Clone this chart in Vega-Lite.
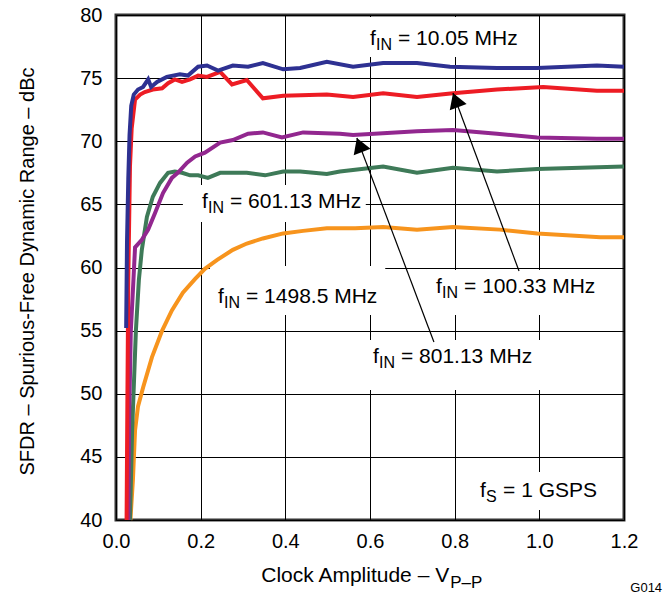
{
  "$schema": "https://vega.github.io/schema/vega-lite/v6.json",
  "width": 508,
  "height": 505,
  "autosize": {"type": "none"},
  "padding": {"left": 116, "top": 15, "right": 45, "bottom": 76},
  "background": "white",
  "config": {
    "font": "Liberation Sans",
    "view": {"stroke": "#333", "strokeWidth": 3},
    "text": {"font": "Liberation Sans", "color": "#000"}
  },
  "datasets": {
    "curves": [
      {"s": "10.05", "x": 0.024, "y": 55.2}, {"s": "10.05", "x": 0.026, "y": 62}, {"s": "10.05", "x": 0.029, "y": 67}, {"s": "10.05", "x": 0.032, "y": 70.5}, {"s": "10.05", "x": 0.036, "y": 72.8}, {"s": "10.05", "x": 0.042, "y": 73.7}, {"s": "10.05", "x": 0.052, "y": 74.1}, {"s": "10.05", "x": 0.064, "y": 74.3}, {"s": "10.05", "x": 0.076, "y": 74.9}, {"s": "10.05", "x": 0.083, "y": 74.3}, {"s": "10.05", "x": 0.097, "y": 74.7}, {"s": "10.05", "x": 0.12, "y": 75.1}, {"s": "10.05", "x": 0.151, "y": 75.3}, {"s": "10.05", "x": 0.17, "y": 75.2}, {"s": "10.05", "x": 0.194, "y": 75.9}, {"s": "10.05", "x": 0.215, "y": 76.0}, {"s": "10.05", "x": 0.241, "y": 75.6}, {"s": "10.05", "x": 0.276, "y": 76.0}, {"s": "10.05", "x": 0.312, "y": 75.9}, {"s": "10.05", "x": 0.347, "y": 76.2}, {"s": "10.05", "x": 0.395, "y": 75.7}, {"s": "10.05", "x": 0.435, "y": 75.8}, {"s": "10.05", "x": 0.498, "y": 76.3}, {"s": "10.05", "x": 0.56, "y": 75.9}, {"s": "10.05", "x": 0.631, "y": 76.2}, {"s": "10.05", "x": 0.711, "y": 76.2}, {"s": "10.05", "x": 0.789, "y": 75.9}, {"s": "10.05", "x": 0.9, "y": 75.8}, {"s": "10.05", "x": 0.995, "y": 75.8}, {"s": "10.05", "x": 1.136, "y": 76.0}, {"s": "10.05", "x": 1.2, "y": 75.9},
      {"s": "100.33", "x": 0.025, "y": 40}, {"s": "100.33", "x": 0.027, "y": 50}, {"s": "100.33", "x": 0.029, "y": 59}, {"s": "100.33", "x": 0.033, "y": 68}, {"s": "100.33", "x": 0.037, "y": 71}, {"s": "100.33", "x": 0.045, "y": 73.3}, {"s": "100.33", "x": 0.057, "y": 73.7}, {"s": "100.33", "x": 0.068, "y": 73.9}, {"s": "100.33", "x": 0.087, "y": 74.1}, {"s": "100.33", "x": 0.109, "y": 74.2}, {"s": "100.33", "x": 0.123, "y": 74.6}, {"s": "100.33", "x": 0.139, "y": 74.9}, {"s": "100.33", "x": 0.156, "y": 74.7}, {"s": "100.33", "x": 0.175, "y": 74.9}, {"s": "100.33", "x": 0.194, "y": 75.2}, {"s": "100.33", "x": 0.215, "y": 75.1}, {"s": "100.33", "x": 0.246, "y": 75.5}, {"s": "100.33", "x": 0.274, "y": 74.5}, {"s": "100.33", "x": 0.309, "y": 74.85}, {"s": "100.33", "x": 0.347, "y": 73.4}, {"s": "100.33", "x": 0.395, "y": 73.6}, {"s": "100.33", "x": 0.498, "y": 73.7}, {"s": "100.33", "x": 0.56, "y": 73.5}, {"s": "100.33", "x": 0.631, "y": 73.8}, {"s": "100.33", "x": 0.711, "y": 73.5}, {"s": "100.33", "x": 0.796, "y": 73.8}, {"s": "100.33", "x": 0.9, "y": 74.1}, {"s": "100.33", "x": 1.009, "y": 74.3}, {"s": "100.33", "x": 1.136, "y": 74.0}, {"s": "100.33", "x": 1.2, "y": 74.0},
      {"s": "801.13", "x": 0.029, "y": 40}, {"s": "801.13", "x": 0.031, "y": 48}, {"s": "801.13", "x": 0.035, "y": 55}, {"s": "801.13", "x": 0.04, "y": 58.2}, {"s": "801.13", "x": 0.045, "y": 61.6}, {"s": "801.13", "x": 0.061, "y": 62.2}, {"s": "801.13", "x": 0.076, "y": 63.0}, {"s": "801.13", "x": 0.092, "y": 64.3}, {"s": "801.13", "x": 0.111, "y": 65.9}, {"s": "801.13", "x": 0.132, "y": 67.1}, {"s": "801.13", "x": 0.146, "y": 67.5}, {"s": "801.13", "x": 0.168, "y": 68.3}, {"s": "801.13", "x": 0.187, "y": 68.8}, {"s": "801.13", "x": 0.21, "y": 69.1}, {"s": "801.13", "x": 0.246, "y": 69.9}, {"s": "801.13", "x": 0.276, "y": 70.1}, {"s": "801.13", "x": 0.312, "y": 70.6}, {"s": "801.13", "x": 0.347, "y": 70.7}, {"s": "801.13", "x": 0.392, "y": 70.3}, {"s": "801.13", "x": 0.442, "y": 70.7}, {"s": "801.13", "x": 0.529, "y": 70.6}, {"s": "801.13", "x": 0.56, "y": 70.5}, {"s": "801.13", "x": 0.711, "y": 70.8}, {"s": "801.13", "x": 0.796, "y": 70.9}, {"s": "801.13", "x": 0.9, "y": 70.6}, {"s": "801.13", "x": 0.995, "y": 70.3}, {"s": "801.13", "x": 1.136, "y": 70.2}, {"s": "801.13", "x": 1.2, "y": 70.2},
      {"s": "601.13", "x": 0.033, "y": 40}, {"s": "601.13", "x": 0.038, "y": 47}, {"s": "601.13", "x": 0.047, "y": 55}, {"s": "601.13", "x": 0.054, "y": 59}, {"s": "601.13", "x": 0.061, "y": 61.4}, {"s": "601.13", "x": 0.073, "y": 64.0}, {"s": "601.13", "x": 0.087, "y": 65.6}, {"s": "601.13", "x": 0.104, "y": 66.7}, {"s": "601.13", "x": 0.123, "y": 67.5}, {"s": "601.13", "x": 0.139, "y": 67.6}, {"s": "601.13", "x": 0.156, "y": 67.5}, {"s": "601.13", "x": 0.175, "y": 67.3}, {"s": "601.13", "x": 0.194, "y": 67.3}, {"s": "601.13", "x": 0.217, "y": 67.1}, {"s": "601.13", "x": 0.246, "y": 67.5}, {"s": "601.13", "x": 0.309, "y": 67.5}, {"s": "601.13", "x": 0.352, "y": 67.3}, {"s": "601.13", "x": 0.395, "y": 67.6}, {"s": "601.13", "x": 0.435, "y": 67.6}, {"s": "601.13", "x": 0.498, "y": 67.4}, {"s": "601.13", "x": 0.529, "y": 67.6}, {"s": "601.13", "x": 0.631, "y": 68.0}, {"s": "601.13", "x": 0.711, "y": 67.5}, {"s": "601.13", "x": 0.796, "y": 67.9}, {"s": "601.13", "x": 0.9, "y": 67.6}, {"s": "601.13", "x": 0.995, "y": 67.8}, {"s": "601.13", "x": 1.2, "y": 68.0},
      {"s": "1498.5", "x": 0.034, "y": 40}, {"s": "1498.5", "x": 0.04, "y": 43.2}, {"s": "1498.5", "x": 0.045, "y": 47.1}, {"s": "1498.5", "x": 0.052, "y": 49.0}, {"s": "1498.5", "x": 0.064, "y": 50.5}, {"s": "1498.5", "x": 0.085, "y": 52.9}, {"s": "1498.5", "x": 0.109, "y": 55.0}, {"s": "1498.5", "x": 0.132, "y": 56.6}, {"s": "1498.5", "x": 0.158, "y": 58.0}, {"s": "1498.5", "x": 0.187, "y": 59.1}, {"s": "1498.5", "x": 0.21, "y": 59.9}, {"s": "1498.5", "x": 0.239, "y": 60.6}, {"s": "1498.5", "x": 0.276, "y": 61.4}, {"s": "1498.5", "x": 0.309, "y": 61.9}, {"s": "1498.5", "x": 0.347, "y": 62.3}, {"s": "1498.5", "x": 0.395, "y": 62.7}, {"s": "1498.5", "x": 0.442, "y": 62.9}, {"s": "1498.5", "x": 0.498, "y": 63.1}, {"s": "1498.5", "x": 0.565, "y": 63.1}, {"s": "1498.5", "x": 0.631, "y": 63.2}, {"s": "1498.5", "x": 0.711, "y": 63.0}, {"s": "1498.5", "x": 0.796, "y": 63.2}, {"s": "1498.5", "x": 0.907, "y": 63.0}, {"s": "1498.5", "x": 0.995, "y": 62.7}, {"s": "1498.5", "x": 1.144, "y": 62.4}, {"s": "1498.5", "x": 1.2, "y": 62.4}
    ],
    "boxes": [
      {"x": 0.576, "x2": 0.966, "y": 79.85, "y2": 76.67},
      {"x": 0.158, "x2": 0.59, "y": 66.53, "y2": 63.6},
      {"x": 0.222, "x2": 0.636, "y": 60.12, "y2": 56.24},
      {"x": 0.737, "x2": 1.143, "y": 59.8, "y2": 56.24},
      {"x": 0.588, "x2": 1.002, "y": 54.26, "y2": 50.3},
      {"x": 0.836, "x2": 1.167, "y": 43.8, "y2": 40.8}
    ],
    "labels": [
      {"sub": "IN", "t": "= 10.05 MHz", "x": 0.6, "y": 77.62},
      {"sub": "IN", "t": "= 601.13 MHz", "x": 0.203, "y": 64.71},
      {"sub": "IN", "t": "= 1498.5 MHz", "x": 0.241, "y": 57.19},
      {"sub": "IN", "t": "= 100.33 MHz", "x": 0.756, "y": 57.98},
      {"sub": "IN", "t": "= 801.13 MHz", "x": 0.607, "y": 52.44},
      {"sub": "S", "t": "= 1 GSPS", "x": 0.86, "y": 41.82}
    ],
    "arrows": [
      {"a": "A1", "x": 0.952, "y": 59.72}, {"a": "A1", "x": 0.796, "y": 73.82},
      {"a": "A2", "x": 0.751, "y": 54.1}, {"a": "A2", "x": 0.569, "y": 70.26}
    ],
    "tips": [
      {"x": 0.796, "y": 73.82},
      {"x": 0.569, "y": 70.26}
    ],
    "xtitle": [
      {"main": "Clock Amplitude – V", "sub": "P–P", "x": 0.787, "y": 35.09, "ys": 34.65}
    ],
    "code": [
      {"t": "G014", "x": 1.29, "y": 34.3}
    ]
  },
  "encoding": {
    "x": {
      "field": "x", "type": "quantitative",
      "scale": {"domain": [0, 1.2], "nice": false, "zero": false},
      "axis": {
        "values": [0, 0.2, 0.4, 0.6, 0.8, 1.0, 1.2], "format": ".1f", "title": null,
        "grid": true, "gridColor": "#000", "gridOpacity": 1, "gridWidth": 1,
        "domain": false, "ticks": false, "labelFlush": false, "labelOverlap": false,
        "labelFont": "Liberation Sans", "labelFontSize": 20, "labelColor": "#000", "labelPadding": 11
      }
    },
    "y": {
      "field": "y", "type": "quantitative",
      "scale": {"domain": [40, 80], "nice": false, "zero": false},
      "axis": {
        "values": [40, 45, 50, 55, 60, 65, 70, 75, 80],
        "title": "SFDR – Spurious-Free Dynamic Range – dBc",
        "titleFont": "Liberation Sans", "titleFontSize": 20, "titleFontWeight": "normal", "titleColor": "#000",
        "titleAngle": -90, "titleX": -83, "titleY": 256, "titleAlign": "center", "titleBaseline": "alphabetic",
        "grid": true, "gridColor": "#000", "gridOpacity": 1, "gridWidth": 1,
        "domain": false, "ticks": false, "labelFlush": false, "labelOverlap": false,
        "labelFont": "Liberation Sans", "labelFontSize": 20, "labelColor": "#000", "labelPadding": 14
      }
    }
  },
  "layer": [
    {
      "data": {"name": "boxes"},
      "mark": {"type": "rect", "fill": "white", "stroke": null},
      "encoding": {"x2": {"field": "x2"}, "y2": {"field": "y2"}}
    },
    {
      "data": {"name": "curves"},
      "transform": [{"filter": "datum.s === '1498.5'"}],
      "mark": {"type": "line", "color": "#F7941D", "strokeWidth": 4}
    },
    {
      "data": {"name": "curves"},
      "transform": [{"filter": "datum.s === '601.13'"}],
      "mark": {"type": "line", "color": "#3E7A58", "strokeWidth": 4}
    },
    {
      "data": {"name": "curves"},
      "transform": [{"filter": "datum.s === '801.13'"}],
      "mark": {"type": "line", "color": "#92278F", "strokeWidth": 4}
    },
    {
      "data": {"name": "curves"},
      "transform": [{"filter": "datum.s === '100.33'"}],
      "mark": {"type": "line", "color": "#ED1C24", "strokeWidth": 4}
    },
    {
      "data": {"name": "curves"},
      "transform": [{"filter": "datum.s === '10.05'"}],
      "mark": {"type": "line", "color": "#2E3192", "strokeWidth": 4}
    },
    {
      "data": {"name": "arrows"},
      "mark": {"type": "line", "color": "#000", "strokeWidth": 1.2},
      "encoding": {"detail": {"field": "a"}}
    },
    {
      "data": {"name": "tips"},
      "mark": {"type": "point", "shape": "M0,0 L1.2,2 L-1.2,2 Z", "size": 225, "angle": -20.5, "filled": true, "color": "#000", "opacity": 1, "strokeWidth": 0}
    },
    {
      "data": {"name": "labels"},
      "mark": {"type": "text", "align": "left", "baseline": "alphabetic", "fontSize": 21, "color": "#000"},
      "encoding": {"text": {"value": "f"}}
    },
    {
      "data": {"name": "labels"},
      "mark": {"type": "text", "align": "left", "baseline": "alphabetic", "fontSize": 16, "dx": 6, "dy": 5, "color": "#000"},
      "encoding": {"text": {"field": "sub"}}
    },
    {
      "data": {"name": "labels"},
      "transform": [{"filter": "datum.sub === 'IN'"}],
      "mark": {"type": "text", "align": "left", "baseline": "alphabetic", "fontSize": 21, "dx": 28, "color": "#000"},
      "encoding": {"text": {"field": "t"}}
    },
    {
      "data": {"name": "labels"},
      "transform": [{"filter": "datum.sub === 'S'"}],
      "mark": {"type": "text", "align": "left", "baseline": "alphabetic", "fontSize": 21, "dx": 23, "color": "#000"},
      "encoding": {"text": {"field": "t"}}
    },
    {
      "data": {"name": "xtitle"},
      "mark": {"type": "text", "align": "right", "baseline": "alphabetic", "fontSize": 21, "color": "#000"},
      "encoding": {"text": {"field": "main"}}
    },
    {
      "data": {"name": "xtitle"},
      "mark": {"type": "text", "align": "left", "baseline": "alphabetic", "fontSize": 17, "dx": 1, "color": "#000"},
      "encoding": {"text": {"field": "sub"}, "y": {"field": "ys", "type": "quantitative"}}
    },
    {
      "data": {"name": "code"},
      "mark": {"type": "text", "align": "right", "baseline": "alphabetic", "fontSize": 13, "color": "#000"},
      "encoding": {"text": {"field": "t"}}
    }
  ]
}
